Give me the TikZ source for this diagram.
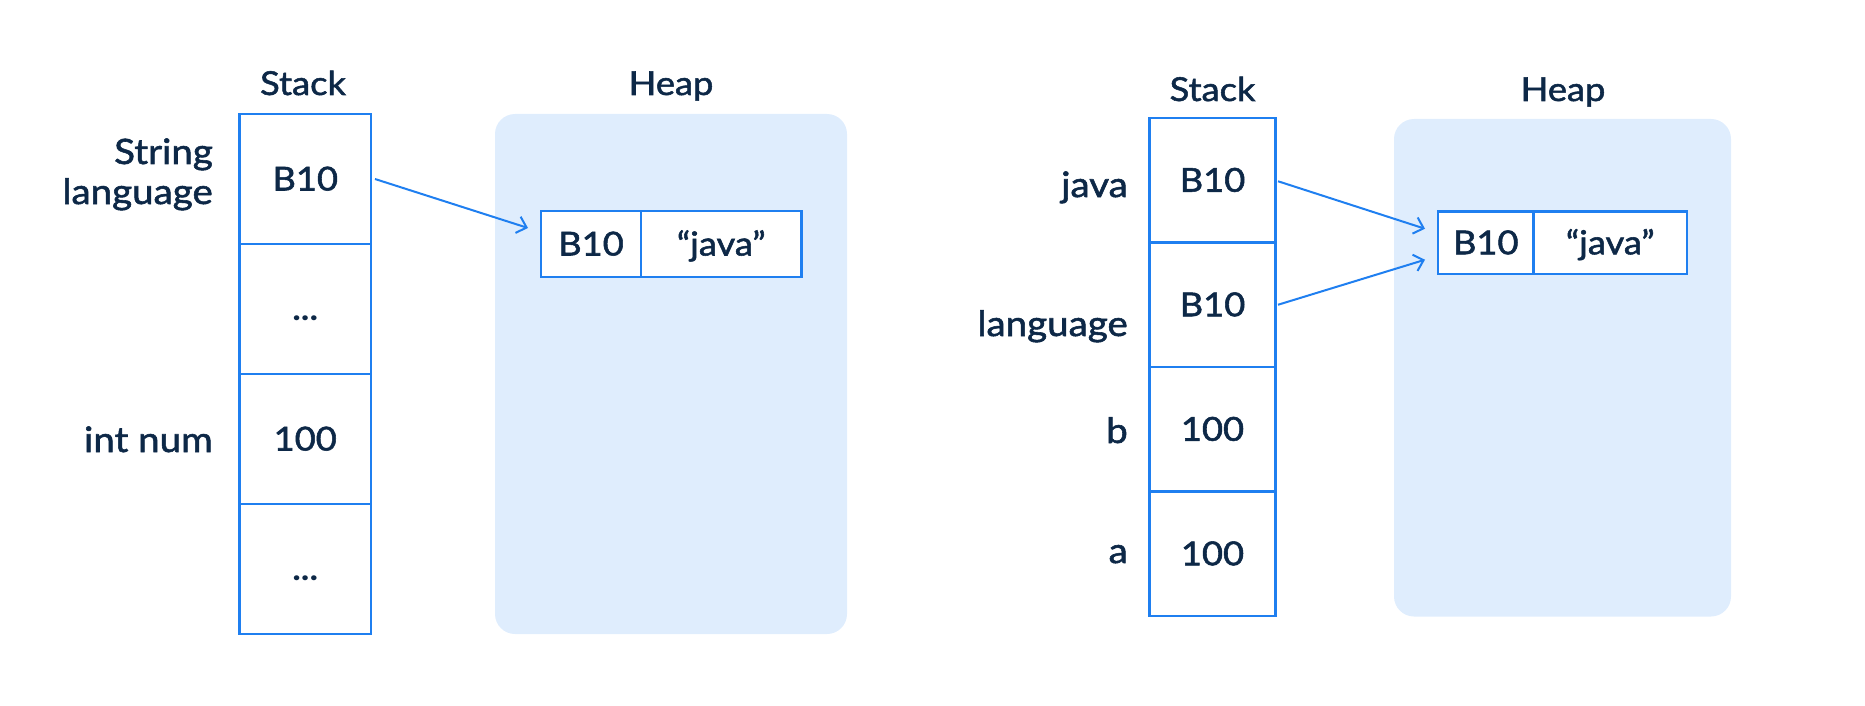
\documentclass[tikz,border=0pt]{standalone}
\usepackage{fontspec}
\setmainfont{Lato}[UprightFeatures={FakeBold=1.6}, FakeStretch=1.1]
\usetikzlibrary{arrows.meta}
\definecolor{lineblue}{HTML}{1F7FF0}
\definecolor{heapfill}{HTML}{DFEDFD}
\definecolor{ink}{HTML}{0D2847}
\begin{document}
\begin{tikzpicture}[x=1pt,y=-1pt,
  txt/.style={font=\fontsize{33}{40}\selectfont, text=ink, inner sep=0pt},
  title/.style={txt, anchor=base},
  lbl/.style={txt, font=\fontsize{35}{40}\selectfont, anchor=base east, align=right},
  cell/.style={txt, draw=lineblue, line width=2.4pt, fill=white, inner sep=0pt, outer sep=0pt, text height=23pt, text depth=0pt},
  lcell/.style={cell, minimum width=131.5pt, minimum height=130pt},
  rcell/.style={cell, minimum width=126pt, minimum height=124.5pt},
  heap/.style={fill=heapfill, draw=none, rounded corners=20pt, inner sep=0pt},
  obj/.style={cell, line width=2.2pt},
  conn/.style={draw=lineblue, line width=2pt, -{Straight Barb[length=9pt,width=17pt,line width=2pt]}}
]
\useasboundingbox (0,0) rectangle (1865,706);
% ---------- left diagram ----------
\node[heap, minimum width=352pt, minimum height=520pt] (lh) at (671,374) {};
\node[title] (lst) at (303,95) {Stack};
\node[title] (lht) at (671,95) {Heap};
\node[lcell] (l1) at (305.25,179) {B10};
\node[lcell] (l2) at (305.25,309) {\textbf{...}};
\node[lcell] (l3) at (305.25,439) {100};
\node[lcell] (l4) at (305.25,569) {\textbf{...}};
\node[lbl] (lv1) at (213,204) {String\\language};
\node[lbl] (lv3) at (213,452) {int num};
\node[obj, minimum width=100pt, minimum height=66pt] (lo1) at (591,244) {B10};
\node[obj, minimum width=160.5pt, minimum height=66pt] (lo2) at (721.25,244) {“java”};
\draw[conn] ([xshift=4pt]l1.east) -- ([xshift=-13pt,yshift=16pt]lo1.west);
% ---------- right diagram ----------
\node[heap, minimum width=337pt, minimum height=497.5pt] (rh) at (1562.5,367.75) {};
\node[title] (rst) at (1212.5,101) {Stack};
\node[title] (rht) at (1563,101) {Heap};
\node[rcell] (r1) at (1212.5,180.25) {B10};
\node[rcell] (r2) at (1212.5,304.75) {B10};
\node[rcell] (r3) at (1212.5,429.25) {100};
\node[rcell] (r4) at (1212.5,553.75) {100};
\node[lbl] (rv1) at (1128,197) {java};
\node[lbl] (rv2) at (1128,336) {language};
\node[lbl] (rv3) at (1128,443) {b};
\node[lbl] (rv4) at (1128,563) {a};
\node[obj, minimum width=95.5pt, minimum height=62.5pt] (ro1) at (1485.75,242.75) {B10};
\node[obj, minimum width=153.5pt, minimum height=62.5pt] (ro2) at (1610.25,242.75) {“java”};
\draw[conn] ([xshift=2.5pt,yshift=-1pt]r1.east) -- ([xshift=-13pt,yshift=14pt]ro1.west);
\draw[conn] ([xshift=2.5pt]r2.east) -- ([xshift=-13pt,yshift=-17pt]ro1.west);
\end{tikzpicture}
\end{document}
